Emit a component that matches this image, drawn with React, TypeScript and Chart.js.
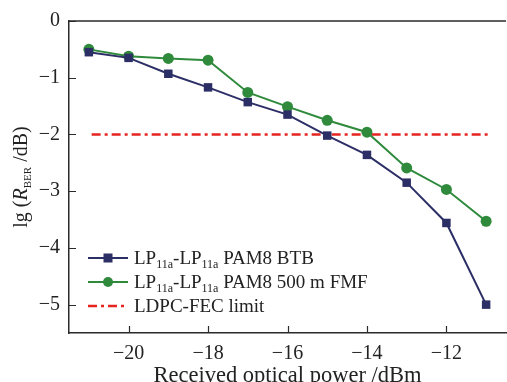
import React, { useEffect, useRef } from "react";
import { Chart, registerables } from "chart.js";
Chart.register(...registerables);

const powers = [-21, -20, -19, -18, -17, -16, -15, -14, -13, -12, -11];
const btb = [-0.55, -0.65, -0.93, -1.17, -1.43, -1.65, -2.02, -2.36, -2.85, -3.56, -5.0];
const fmf = [-0.5, -0.62, -0.66, -0.69, -1.26, -1.51, -1.75, -1.96, -2.59, -2.97, -3.53];
const fecX = [-20.93, -10.95];
const fecY = [-2, -2];
const xTicks = [-20, -18, -16, -14, -12];
const yTicks = [0, -1, -2, -3, -4, -5];

const SERIF = "'Liberation Serif', 'DejaVu Serif', serif";
const BLUE = "#2c2e66";
const GREEN = "#2f8a3c";
const RED = "#e5231f";
const AXIS = "#2a2a2a";

type Seg = { t: string; size: number; italic?: boolean; dy?: number };

function segWidth(ctx: CanvasRenderingContext2D, segs: Seg[]) {
  let w = 0;
  for (const s of segs) {
    ctx.font = `${s.italic ? "italic " : ""}${s.size}px ${SERIF}`;
    w += ctx.measureText(s.t).width;
  }
  return w;
}
function drawSegs(ctx: CanvasRenderingContext2D, segs: Seg[], x: number, y: number) {
  let cx = x;
  for (const s of segs) {
    ctx.font = `${s.italic ? "italic " : ""}${s.size}px ${SERIF}`;
    ctx.fillText(s.t, cx, y + (s.dy || 0));
    cx += ctx.measureText(s.t).width;
  }
}

const lpLabel = (rest: string): Seg[] => [
  { t: "LP", size: 19 },
  { t: "11a", size: 12, dy: 4 },
  { t: "-LP", size: 19 },
  { t: "11a", size: 12, dy: 4 },
  { t: rest, size: 19 },
];
const legendItems = [
  { segs: lpLabel(" PAM8 BTB"), ds: 0 },
  { segs: lpLabel(" PAM8 500 m FMF"), ds: 1 },
  { segs: [{ t: "LDPC-FEC limit", size: 19 }] as Seg[], ds: 2 },
];

const decor = {
  id: "decor",
  afterDraw(chart: any) {
    const ctx: CanvasRenderingContext2D = chart.ctx;
    const a = chart.chartArea;
    const xs = chart.scales.x;
    const ys = chart.scales.y;
    ctx.save();
    ctx.strokeStyle = AXIS;
    ctx.lineWidth = 1.5;
    ctx.beginPath();
    ctx.moveTo(a.left, a.top);
    ctx.lineTo(a.right, a.top);
    ctx.stroke();
    ctx.lineWidth = 1.2;
    ctx.beginPath();
    for (const v of xTicks) {
      const px = Math.round(xs.getPixelForValue(v)) + 0.5;
      ctx.moveTo(px, a.bottom);
      ctx.lineTo(px, a.bottom - 7);
    }
    for (const v of yTicks) {
      const py = Math.round(ys.getPixelForValue(v)) + 0.5;
      ctx.moveTo(a.left, py);
      ctx.lineTo(a.left + 7, py);
    }
    ctx.stroke();

    ctx.fillStyle = "#222";
    ctx.textBaseline = "alphabetic";
    const ySegs: Seg[] = [
      { t: "lg (", size: 20 },
      { t: "R", size: 20, italic: true },
      { t: "BER", size: 11, dy: 4 },
      { t: " /dB)", size: 20 },
    ];
    const w = segWidth(ctx, ySegs);
    ctx.save();
    ctx.translate(27, (a.top + a.bottom) / 2);
    ctx.rotate(-Math.PI / 2);
    drawSegs(ctx, ySegs, -w / 2, 0);
    ctx.restore();

    const rows = [258, 282, 306];
    legendItems.forEach((it, i) => {
      const ds = chart.data.datasets[it.ds];
      const y = rows[i];
      ctx.save();
      ctx.strokeStyle = ds.borderColor;
      ctx.lineWidth = ds.borderWidth;
      ctx.setLineDash(ds.borderDash || []);
      ctx.beginPath();
      ctx.moveTo(88, y);
      ctx.lineTo(128, y);
      ctx.stroke();
      ctx.setLineDash([]);
      ctx.fillStyle = ds.backgroundColor;
      if (ds.pointRadius > 0) {
        if (ds.pointStyle === "rect") {
          ctx.fillRect(108 - 4.5, y - 4.5, 9, 9);
        } else {
          ctx.beginPath();
          ctx.arc(108, y, 5, 0, Math.PI * 2);
          ctx.fill();
        }
      }
      ctx.restore();
      ctx.fillStyle = "#222";
      drawSegs(ctx, it.segs, 134, y + 6);
    });
    ctx.restore();
  },
};

export default function App() {
  const ref = useRef<HTMLCanvasElement | null>(null);
  useEffect(() => {
    if (!ref.current) return;
    const chart = new Chart(ref.current, {
      type: "line",
      data: {
        datasets: [
          {
            label: "BTB",
            data: powers.map((x, i) => ({ x, y: btb[i] })),
            borderColor: BLUE,
            backgroundColor: BLUE,
            borderWidth: 2,
            pointStyle: "rect",
            pointRadius: 6,
            pointBorderWidth: 0,
          },
          {
            label: "FMF",
            data: powers.map((x, i) => ({ x, y: fmf[i] })),
            borderColor: GREEN,
            backgroundColor: GREEN,
            borderWidth: 2,
            pointStyle: "circle",
            pointRadius: 5.5,
            pointBorderWidth: 0,
          },
          {
            label: "FEC",
            data: fecX.map((x, i) => ({ x, y: fecY[i] })),
            borderColor: RED,
            backgroundColor: RED,
            borderWidth: 2.5,
            borderDash: [9, 4, 3, 4],
            pointRadius: 0,
          },
        ],
      },
      options: {
        animation: false,
        responsive: false,
        maintainAspectRatio: false,
        layout: { padding: { top: 17, right: 3, left: 0, bottom: 0 } },
        plugins: { legend: { display: false }, tooltip: { enabled: false } },
        scales: {
          x: {
            type: "linear",
            min: -21.5,
            max: -10.5,
            afterBuildTicks: (s: any) => {
              s.ticks = xTicks.map((v) => ({ value: v }));
            },
            afterFit: (s: any) => {
              s.height = 49;
            },
            grid: { display: false, drawTicks: false },
            border: { display: true, color: AXIS, width: 1.5 },
            ticks: {
              padding: 9,
              color: "#222",
              font: { family: SERIF, size: 20 },
              callback: (v: any) => String(v).replace("-", "\u2212"),
            },
            title: {
              display: true,
              text: "Received optical power /dBm",
              color: "#222",
              font: { family: SERIF, size: 22.5, lineHeight: 0.55 },
              padding: { top: 0, bottom: 0 },
            },
          },
          y: {
            type: "linear",
            min: -5.5,
            max: 0,
            afterBuildTicks: (s: any) => {
              s.ticks = yTicks.map((v) => ({ value: v }));
            },
            afterFit: (s: any) => {
              s.width = 69;
            },
            grid: { display: false, drawTicks: false },
            border: { display: true, color: AXIS, width: 1.5 },
            ticks: {
              padding: 9,
              color: "#222",
              font: { family: SERIF, size: 20 },
              callback: (v: any) => String(v).replace("-", "\u2212"),
            },
          },
        },
      },
      plugins: [decor],
    });
    return () => chart.destroy();
  }, []);
  return (
    <div
      style={{
        position: "fixed",
        left: 0,
        top: 0,
        width: 507,
        height: 382,
        overflow: "hidden",
        background: "#fff",
      }}
    >
      <canvas ref={ref} width={512} height={382} style={{ width: 512, height: 382, display: "block" }} />
    </div>
  );
}
